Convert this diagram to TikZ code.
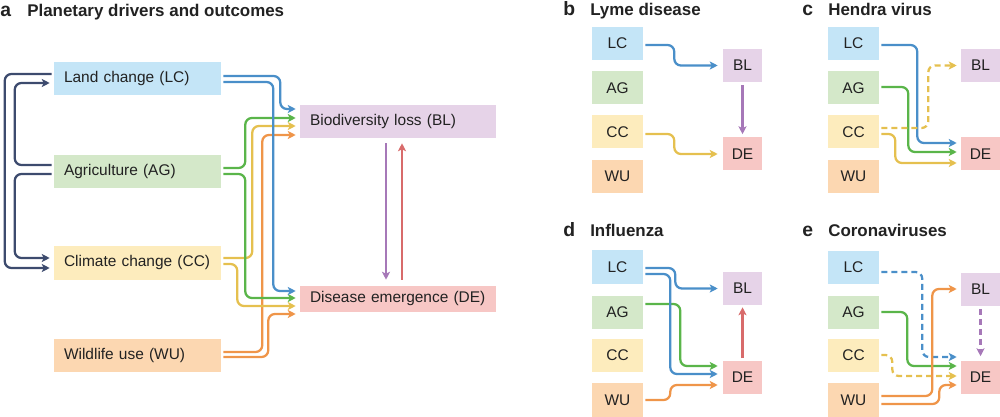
\documentclass[tikz,border=0pt]{standalone}
\usepackage{fontspec}
\setmainfont{Liberation Sans}
\usetikzlibrary{arrows.meta,calc}
\definecolor{navy}{HTML}{3D4B6E}
\definecolor{lnB}{HTML}{4A8FC9}
\definecolor{lnG}{HTML}{5AB54A}
\definecolor{lnY}{HTML}{E5C04F}
\definecolor{lnO}{HTML}{EF9549}
\definecolor{lnP}{HTML}{A678B8}
\definecolor{lnR}{HTML}{D86B6B}
\definecolor{fLC}{HTML}{C4E5F7}
\definecolor{fAG}{HTML}{D4E8C9}
\definecolor{fCC}{HTML}{FDECBD}
\definecolor{fWU}{HTML}{FCD7B1}
\definecolor{fBL}{HTML}{E6D3E8}
\definecolor{fDE}{HTML}{F7C7C5}
\definecolor{txt}{HTML}{222222}
\begin{document}
\begin{tikzpicture}[x=0.75pt,y=-0.75pt,
  ln/.style={line width=1.7pt, rounded corners=5pt, -{Stealth[length=6pt,width=6pt,inset=1.5pt]}},
  dsh/.style={dash pattern=on 4.5pt off 3pt},
  abox/.style={rectangle, inner xsep=0pt, inner ysep=0pt, minimum height=24.75pt, align=left, font=\fontsize{11.6}{14}\selectfont, text=txt, execute at begin node={\hspace*{7.5pt}}},
  drv/.style={abox, text width=125.25pt},
  outc/.style={abox, text width=147pt},
  sbox/.style={rectangle, inner sep=0pt, minimum width=38.25pt, minimum height=24.75pt, font=\fontsize{11.6}{14}\selectfont, text=txt},
  obox/.style={sbox, minimum width=29.25pt},
  lett/.style={anchor=base west, inner sep=0pt, font=\fontsize{14.5}{16}\selectfont\bfseries, text=txt},
  ttl/.style={anchor=base west, inner sep=0pt, font=\fontsize{12.7}{14}\selectfont\bfseries, text=txt}
]
\useasboundingbox (0,0) rectangle (1000,417);
% ---------- titles
\node[lett] (la) at (0,17) {a};
\node[ttl] (ta) at (27,17) {Planetary drivers and outcomes};
\node[lett] (lb) at (563,16) {b};
\node[ttl] (tb) at (590,16) {Lyme disease};
\node[lett] (lc) at (802,16) {c};
\node[ttl] (tc) at (828,16) {Hendra virus};
\node[lett] (ld) at (563,237) {d};
\node[ttl] (td) at (590,237) {Influenza};
\node[lett] (le) at (802,237) {e};
\node[ttl] (te) at (828,237) {Coronaviruses};
% ---------- panel a boxes
\node[drv, fill=fLC] (aLC) at (137.5,78.5) {Land change (LC)};
\node[drv, fill=fAG] (aAG) at (137.5,171.5) {Agriculture (AG)};
\node[drv, fill=fCC] (aCC) at (137.5,263) {Climate change (CC)};
\node[drv, fill=fWU] (aWU) at (137.5,355.5) {Wildlife use (WU)};
\node[outc, fill=fBL] (aBL) at (398,121.5) {Biodiversity loss (BL)};
\node[outc, fill=fDE, minimum height=19.5pt] (aDE) at (398,299) {Disease emergence (DE)};
% ---------- panel a navy arrows
\draw[ln, navy] ($(aLC.west)+(-2,-4.5)$) -- ++(-47,0) |- ($(aCC.west)+(-4,5)$);
\draw[ln, navy] ($(aAG.west)+(-2,-6.5)$) -- ++(-37,0) |- ($(aLC.west)+(-4,4.5)$);
\draw[ln, navy] ($(aAG.west)+(-2,2.5)$) -- ++(-37,0) |- ($(aCC.west)+(-4,-5)$);
% ---------- panel a drivers to outcomes
\draw[ln, lnO] ($(aWU.east)+(2,-3.5)$) -- ++(39,0) |- ($(aBL.west)+(-4,13.5)$);
\draw[ln, lnO] ($(aWU.east)+(2,1.5)$) -- ++(45,0) |- ($(aDE.west)+(-4,15)$);
\draw[ln, lnY] ($(aCC.east)+(2,-5)$) -- ++(29,0) |- ($(aBL.west)+(-4,4.5)$);
\draw[ln, lnY] ($(aCC.east)+(2,1)$) -- ++(14,0) |- ($(aDE.west)+(-4,7)$);
\draw[ln, lnG] ($(aAG.east)+(2,-3.5)$) -- ++(22,0) |- ($(aBL.west)+(-4,-3.5)$);
\draw[ln, lnG] ($(aAG.east)+(2,2.5)$) -- ++(22,0) |- ($(aDE.west)+(-4,-1)$);
\draw[ln, lnB] ($(aLC.east)+(2,-2.5)$) -- ++(57,0) |- ($(aBL.west)+(-4,-12.5)$);
\draw[ln, lnB] ($(aLC.east)+(2,3.5)$) -- ++(50,0) |- ($(aDE.west)+(-4,-8)$);
\draw[ln, lnP] ($(aBL.south)+(-12,5)$) -- ($(aDE.north)+(-12,-6)$);
\draw[ln, lnR] ($(aDE.north)+(4,-6)$) -- ($(aBL.south)+(4,5)$);
% ---------- panel b
\node[sbox, fill=fLC] (bLC) at (617.5,43.5) {LC};
\node[sbox, fill=fAG] (bAG) at (617.5,88) {AG};
\node[sbox, fill=fCC] (bCC) at (617.5,132) {CC};
\node[sbox, fill=fWU] (bWU) at (617.5,176.5) {WU};
\node[obox, fill=fBL] (bBL) at (742.5,65.5) {BL};
\node[obox, fill=fDE] (bDE) at (742.5,154) {DE};
\draw[ln, lnB] ($(bLC.east)+(2,1.5)$) -- ++(29,0) |- ($(bBL.west)+(-5,0)$);
\draw[ln, lnY] ($(bCC.east)+(2,2)$) -- ++(29,0) |- ($(bDE.west)+(-5,0)$);
\draw[ln, lnP] ($(bBL.south)+(0,3)$) -- ($(bDE.north)+(0,-3)$);
% ---------- panel c
\node[sbox, fill=fLC] (cLC) at (853.5,43.5) {LC};
\node[sbox, fill=fAG] (cAG) at (853.5,88) {AG};
\node[sbox, fill=fCC] (cCC) at (853.5,132) {CC};
\node[sbox, fill=fWU] (cWU) at (853.5,176.5) {WU};
\node[obox, fill=fBL] (cBL) at (980.5,65.5) {BL};
\node[obox, fill=fDE] (cDE) at (980.5,154) {DE};
\draw[ln, lnY] ($(cCC.east)+(2,2)$) -- ++(14,0) |- ($(cDE.west)+(-4,9)$);
\draw[ln, lnG] ($(cAG.east)+(2,-1)$) -- ++(27,0) |- ($(cDE.west)+(-4,-2)$);
\draw[ln, lnB] ($(cLC.east)+(2,1.5)$) -- ++(36,0) |- ($(cDE.west)+(-4,-11)$);
\draw[ln, lnY, dsh] ($(cCC.east)+(2,-4)$) -- ++(47,0) |- ($(cBL.west)+(-4,0)$);
% ---------- panel d
\node[sbox, fill=fLC] (dLC) at (617.5,267) {LC};
\node[sbox, fill=fAG] (dAG) at (617.5,312) {AG};
\node[sbox, fill=fCC] (dCC) at (617.5,355.5) {CC};
\node[sbox, fill=fWU, minimum height=25.5pt] (dWU) at (617.5,400) {WU};
\node[obox, fill=fBL] (dBL) at (742.5,288.5) {BL};
\node[obox, fill=fDE] (dDE) at (742.5,377) {DE};
\draw[ln, lnO] ($(dWU.east)+(2,0)$) -- ++(25,0) |- ($(dDE.west)+(-5,8)$);
\draw[ln, lnG] ($(dAG.east)+(2,-8)$) -- ++(35,0) |- ($(dDE.west)+(-5,-11)$);
\draw[ln, lnB] ($(dLC.east)+(2,7)$) -- ++(25,0) |- ($(dDE.west)+(-5,-3)$);
\draw[ln, lnB] ($(dLC.east)+(2,1)$) -- ++(30,0) |- ($(dBL.west)+(-5,0)$);
\draw[ln, lnR] ($(dDE.north)+(0,-2)$) -- ($(dBL.south)+(0,2)$);
% ---------- panel e
\node[sbox, fill=fLC] (eLC) at (853.5,267.5) {LC};
\node[sbox, fill=fAG] (eAG) at (853.5,312) {AG};
\node[sbox, fill=fCC] (eCC) at (853.5,355.5) {CC};
\node[sbox, fill=fWU, minimum height=25.5pt] (eWU) at (853.5,400) {WU};
\node[obox, fill=fBL] (eBL) at (980.5,289) {BL};
\node[obox, fill=fDE] (eDE) at (980.5,377) {DE};
\draw[ln, lnY, dsh] ($(eCC.east)+(2,-0.5)$) -- ++(11,0) |- ($(eDE.west)+(-4,-1)$);
\draw[ln, lnB, dsh] ($(eLC.east)+(2,4.5)$) -- ++(41,0) |- ($(eDE.west)+(-4,-20)$);
\draw[ln, lnG] ($(eAG.east)+(2,0)$) -- ++(26,0) |- ($(eDE.west)+(-4,-11)$);
\draw[ln, lnO] ($(eWU.east)+(2,-4)$) -- ++(51,0) |- ($(eBL.west)+(-4,0)$);
\draw[ln, lnO] ($(eWU.east)+(2,4)$) -- ++(58,0) |- ($(eDE.west)+(-4,8)$);
\draw[ln, lnP, dsh] ($(eBL.south)+(0,3)$) -- ($(eDE.north)+(0,-4)$);
\end{tikzpicture}
\end{document}
